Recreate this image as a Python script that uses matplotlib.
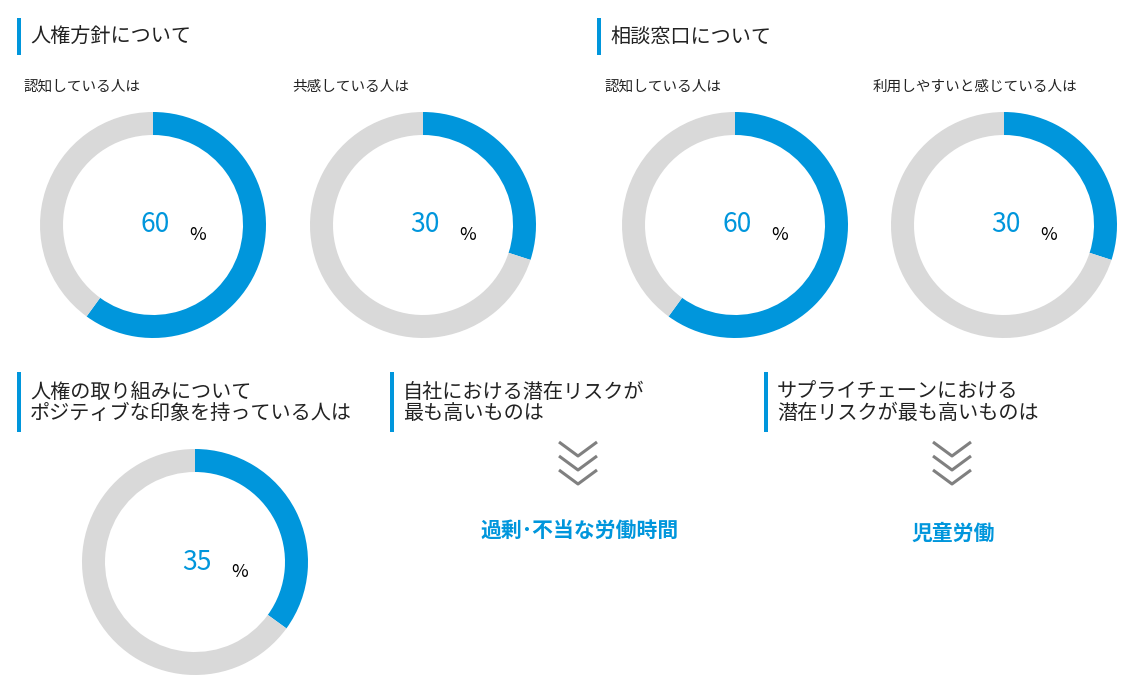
import matplotlib.pyplot as plt
from matplotlib.patches import Wedge, Rectangle

plt.rcParams['font.family'] = ['Noto Sans CJK JP', 'DejaVu Sans']

BLUE = '#0096DC'
GRAY = '#D9D9D9'

# donut data
donut_titles = ['認知している人は', '共感している人は', '認知している人は',
                '利用しやすいと感じている人は', '']
donut_values = [60, 30, 60, 30, 35]
donut_centers = [(153, 225), (423, 225), (735, 225), (1004, 225), (195, 562)]
title_pos = [(23, 87), (292, 87), (604, 87), (873, 87)]

headers = ['人権方針について', '相談窓口について', '人権の取り組みについて\nポジティブな印象を持っている人は',
           '自社における潜在リスクが\n最も高いものは', 'サプライチェーンにおける\n潜在リスクが最も高いものは']
header_pos = [(17, 18, 37), (597, 18, 37), (17, 372, 60), (390, 372, 60), (764, 372, 60)]

answers = ['過剰･不当な労働時間', '児童労働']
answer_pos = [(580, 530), (953, 533)]
chevron_x = [578, 952]

fig = plt.figure(figsize=(11.41, 6.93), dpi=100)
ax = fig.add_axes([0, 0, 1, 1])
ax.set_xlim(0, 1141)
ax.set_ylim(693, 0)
ax.set_aspect('equal')
ax.axis('off')

R, W = 113, 23
for (cx, cy), v in zip(donut_centers, donut_values):
    a = 360 * v / 100
    # y axis is inverted: angle 270 is the top, increasing angles go clockwise on screen
    ax.add_patch(Wedge((cx, cy), R, 270, 270 + a, width=W, color=BLUE, lw=0))
    ax.add_patch(Wedge((cx, cy), R, 270 + a, 270 + 360, width=W, color=GRAY, lw=0))
    ax.text(cx + 2, cy, str(v), color=BLUE, fontsize=19, ha='center', va='center')
    ax.text(cx + 45, cy + 10, '%', color='black', fontsize=13, ha='center', va='center')

for (x, y), t in zip(title_pos, donut_titles):
    ax.text(x, y, t, fontsize=10.5, ha='left', va='center', color='#222222')

for (x, y0, h), t in zip(header_pos, headers):
    ax.add_patch(Rectangle((x, y0), 4, h, color=BLUE, lw=0))
    ax.text(x + 13, y0 + h / 2 + 1, t, fontsize=14.5, ha='left', va='center',
            color='#222222', linespacing=1.0)

for cx in chevron_x:
    for y in [442, 456, 470]:
        ax.plot([cx - 19, cx, cx + 19], [y, y + 14, y], color='#808080', lw=2.2,
                solid_capstyle='butt')

for (x, y), t in zip(answer_pos, answers):
    ax.text(x, y, t, fontsize=15, color=BLUE, fontweight='bold', ha='center', va='center')

fig.savefig('out.png', dpi=100)
